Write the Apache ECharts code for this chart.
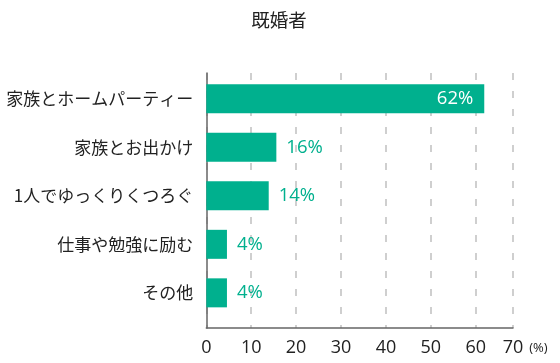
<!DOCTYPE html>
<html><head><meta charset="utf-8">
<script src="https://cdn.jsdelivr.net/npm/echarts@6/dist/echarts.min.js"></script>
<style>html,body{margin:0;padding:0;background:#fff}#c{width:560px;height:363px}</style>
</head><body><div id="c"></div>
<script>
var titleText = '既婚者';
var categories = ['家族とホームパーティー', '家族とお出かけ', '1人でゆっくりくつろぐ', '仕事や勉強に励む', 'その他'];
var values = [61.9, 15.6, 13.9, 4.6, 4.6];
var valueLabels = ['62%', '16%', '14%', '4%', '4%'];
var tickLabels = ['0', '10', '20', '30', '40', '50', '60', '70'];
var axisMax = 68.3;
var unitLabel = '(%)';

var FONT = '"Noto Sans CJK JP", "Noto Sans", sans-serif';
var NUMFONT = '"Open Sans", "Noto Sans CJK JP", sans-serif';
var TEAL = '#00b08e';
var chart = echarts.init(document.getElementById('c'), null, {renderer: 'canvas'});
chart.setOption({
  animation: false,
  backgroundColor: '#fff',
  title: {text: titleText, left: 274, top: 6, textAlign: 'center',
    textStyle: {fontFamily: FONT, fontSize: 18.5, fontWeight: 'normal', color: '#222'}},
  grid: [
    {left: 206.3, right: 47, top: 74.5, height: 242.6},
    {left: 206.3, right: 47, top: 73, bottom: 35}
  ],
  xAxis: [
    {gridIndex: 0, type: 'value', min: 0, max: axisMax, interval: 10, show: false},
    {gridIndex: 1, type: 'value', min: 0, max: axisMax, interval: 10,
      name: unitLabel, nameLocation: 'end', nameGap: 11,
      nameTextStyle: {fontFamily: NUMFONT, fontSize: 13, color: '#222', verticalAlign: 'top', padding: [14, 0, 0, 0]},
      axisLine: {show: true, lineStyle: {color: '#666', width: 1.5}},
      axisTick: {show: false},
      axisLabel: {fontFamily: NUMFONT, fontSize: 18, color: '#222', margin: 11, showMaxLabel: true, showMinLabel: true,
        formatter: function (v) { var i = Math.round(v / 10); return tickLabels[i] !== undefined ? tickLabels[i] : ''; }},
      splitLine: {show: true, lineStyle: {color: '#cfcfcf', width: 2, type: [7, 11]}}
    }
  ],
  yAxis: [
    {gridIndex: 0, type: 'category', data: categories, inverse: true,
      axisLine: {show: false}, axisTick: {show: false},
      axisLabel: {fontFamily: FONT, fontSize: 17, color: '#222', margin: 13}},
    {gridIndex: 1, type: 'value', min: 0, max: 1,
      axisLine: {show: true, lineStyle: {color: '#666', width: 1.5}},
      axisTick: {show: false}, axisLabel: {show: false}, splitLine: {show: false}}
  ],
  series: [{
    type: 'bar', xAxisIndex: 0, yAxisIndex: 0, barWidth: 29,
    itemStyle: {color: TEAL},
    data: values.map(function (v, i) {
      return {value: v, label: i === 0 ?
        {show: true, position: 'insideRight', distance: 11, color: '#fff'} :
        {show: true, position: 'right', distance: 10, color: TEAL}};
    }),
    label: {show: true, fontFamily: NUMFONT, fontSize: 18.5,
      formatter: function (p) { return valueLabels[p.dataIndex]; }}
  }]
});
</script></body></html>
